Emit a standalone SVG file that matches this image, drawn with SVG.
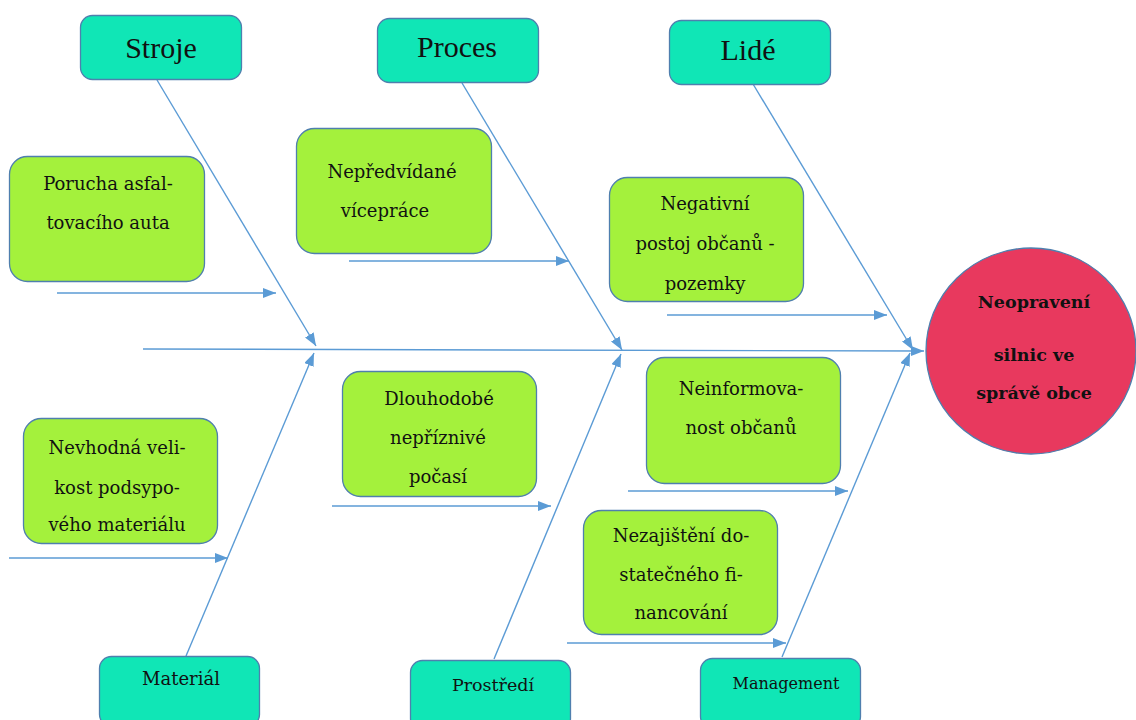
<svg xmlns="http://www.w3.org/2000/svg" width="1136" height="720" viewBox="0 0 1136 720">
<defs>
<marker id="ah" markerWidth="13" markerHeight="10" refX="13" refY="5" orient="auto" markerUnits="userSpaceOnUse">
<path d="M0,0 L13,5 L0,10 Z" fill="#5B9BD5"/>
</marker>
<style>
.cat{fill:#10E6B6;stroke:#4F7FAE;stroke-width:1.3}
.cause{fill:#A4F13C;stroke:#4F7FAE;stroke-width:1.3}
.ln{stroke:#5B9BD5;stroke-width:1.4;fill:none;marker-end:url(#ah)}
text{font-family:"DejaVu Serif","Liberation Serif",serif;fill:#111;text-anchor:middle}
.big{font-family:"Liberation Serif","Times New Roman",serif;font-size:30px}
.sm{font-size:18px}
.t{font-size:18px}
.eff{font-size:17.5px;font-weight:bold}
</style>
</defs>
<rect width="1136" height="720" fill="#fff"/>
<g id="connectors">
<line class="ln" x1="143" y1="349" x2="924" y2="351"/>
<line class="ln" x1="157" y1="80" x2="316" y2="346"/>
<line class="ln" x1="186" y1="656" x2="314" y2="353"/>
<line class="ln" x1="462" y1="83" x2="622" y2="350"/>
<line class="ln" x1="494" y1="659" x2="621" y2="354"/>
<line class="ln" x1="753" y1="84" x2="913" y2="350"/>
<line class="ln" x1="782" y1="657" x2="910" y2="353"/>
<line class="ln" x1="57" y1="293" x2="276" y2="293"/>
<line class="ln" x1="349" y1="261" x2="569" y2="261"/>
<line class="ln" x1="667" y1="315" x2="887" y2="315"/>
<line class="ln" x1="9" y1="558" x2="228" y2="558"/>
<line class="ln" x1="332" y1="506" x2="551" y2="506"/>
<line class="ln" x1="628" y1="491" x2="848" y2="491"/>
<line class="ln" x1="567" y1="643" x2="786" y2="643"/>
</g>
<g id="stroje"><rect class="cat" x="80.5" y="15.5" width="161" height="64" rx="12"/><text class="big" x="161" y="58">Stroje</text></g>
<g id="proces"><rect class="cat" x="377.5" y="18.5" width="161" height="64" rx="12"/><text class="big" x="457" y="57">Proces</text></g>
<g id="lide"><rect class="cat" x="669.5" y="20.5" width="161" height="64" rx="12"/><text class="big" x="748" y="60">Lidé</text></g>
<g id="material"><rect class="cat" x="99.5" y="656.5" width="160" height="70" rx="12"/><text class="sm" x="181" y="685">Materiál</text></g>
<g id="prostredi"><rect class="cat" x="410.5" y="660.5" width="160" height="70" rx="12"/><text class="sm" x="493" y="691" style="font-size:17.5px">Prostředí</text></g>
<g id="management"><rect class="cat" x="700.5" y="658.5" width="160" height="70" rx="12"/><text class="sm" x="786" y="689" style="font-size:16px">Management</text></g>
<g id="porucha"><rect class="cause" x="9.5" y="156.5" width="195" height="125" rx="18"/><text class="t" x="108" y="190">Porucha asfal-</text><text class="t" x="108" y="229">tovacího auta</text></g>
<g id="nepredvidane"><rect class="cause" x="296.5" y="128.5" width="195" height="125" rx="18"/><text class="t" x="392" y="178">Nepředvídané</text><text class="t" x="385" y="217">vícepráce</text></g>
<g id="negativni"><rect class="cause" x="609.5" y="177.5" width="194" height="124" rx="18"/><text class="t" x="705" y="210">Negativní</text><text class="t" x="705" y="250">postoj občanů -</text><text class="t" x="705" y="290">pozemky</text></g>
<g id="nevhodna"><rect class="cause" x="23.5" y="418.5" width="194" height="125" rx="18"/><text class="t" x="117" y="454">Nevhodná veli-</text><text class="t" x="117" y="494">kost podsypo-</text><text class="t" x="117" y="531">vého materiálu</text></g>
<g id="dlouhodobe"><rect class="cause" x="342.5" y="371.5" width="194" height="125" rx="18"/><text class="t" x="439" y="405">Dlouhodobé</text><text class="t" x="438" y="444">nepříznivé</text><text class="t" x="438" y="483">počasí</text></g>
<g id="neinformovanost"><rect class="cause" x="646.5" y="357.5" width="194" height="126" rx="18"/><text class="t" x="741" y="395">Neinformova-</text><text class="t" x="741" y="434">nost občanů</text></g>
<g id="nezajisteni"><rect class="cause" x="583.5" y="510.5" width="194" height="124" rx="18"/><text class="t" x="681" y="542">Nezajištění do-</text><text class="t" x="681" y="581">statečného fi-</text><text class="t" x="681" y="619">nancování</text></g>
<g id="effect"><ellipse cx="1031" cy="351" rx="105" ry="103" fill="#E8395E" stroke="#4F7FAE" stroke-width="1.3"/><text class="eff" x="1034" y="308">Neopravení</text><text class="eff" x="1034" y="361">silnic ve</text><text class="eff" x="1034" y="399">správě obce</text></g>
</svg>
